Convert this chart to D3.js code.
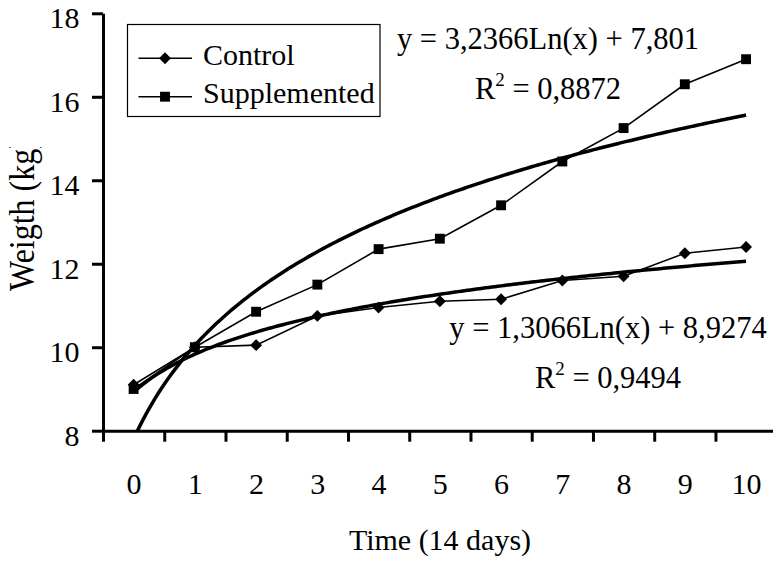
<!DOCTYPE html>
<html>
<head>
<meta charset="utf-8">
<script src="https://cdn.jsdelivr.net/npm/d3@7"></script>
<style>
  body { margin: 0; background: #fff; }
  svg { display: block; font-family: "Liberation Serif", "Times New Roman", serif; }
</style>
</head>
<body>
<div id="chart"></div>
<script>
// Données
const periods = [0, 1, 2, 3, 4, 5, 6, 7, 8, 9, 10];
const control = [9.1, 10.0, 10.05, 10.75, 10.95, 11.1, 11.15, 11.6, 11.7, 12.25, 12.4];
const supplemented = [9.0, 10.0, 10.85, 11.5, 12.35, 12.6, 13.4, 14.45, 15.25, 16.3, 16.9];
const yTicks = [8, 10, 12, 14, 16, 18];

// Courbes de tendance logarithmiques (y = a Ln(x) + b, x = rang 1..11)
const trendSupp = [3.2366, 7.801];
const trendCtrl = [1.3066, 8.9274];

const width = 773, height = 561;

const svg = d3.select('#chart')
  .append('svg')
  .attr('width', width)
  .attr('height', height);

const x = d3.scaleLinear().domain([-0.5, 10.5]).range([103, 776.7]);
const y = d3.scaleLinear().domain([8, 18]).range([430.7, 13.3]);

const defs = svg.append('defs');
defs.append('clipPath').attr('id', 'plot')
  .append('rect')
  .attr('x', x(-0.5)).attr('y', y(18))
  .attr('width', x(10.5) - x(-0.5)).attr('height', y(8) - y(18));

defs.append('clipPath').attr('id', 'ylab')
  .append('rect')
  .attr('x', 0).attr('y', 147).attr('width', 80).attr('height', 300);

// Axe Y
const yAxis = svg.append('g')
  .attr('transform', 'translate(' + x(-0.5) + ',0)')
  .call(d3.axisLeft(y).tickValues(yTicks).tickSize(11).tickSizeOuter(0).tickPadding(12.5));
yAxis.selectAll('path, line').attr('stroke', '#000').attr('stroke-width', 3);
yAxis.selectAll('text')
  .attr('font-size', 30).attr('font-family', 'Liberation Serif').attr('fill', '#000')
  .attr('dy', '0.48em');

// Axe X : graduations entre les catégories
const bounds = d3.range(-0.5, 11, 1);
const xAxis = svg.append('g')
  .attr('transform', 'translate(0,' + y(8) + ')')
  .call(d3.axisBottom(x).tickValues(bounds).tickSize(11).tickSizeOuter(0).tickFormat(''));
xAxis.selectAll('path, line').attr('stroke', '#000').attr('stroke-width', 3);

const xLabels = svg.append('g')
  .attr('transform', 'translate(0,' + y(8) + ')')
  .call(d3.axisBottom(x).tickValues(periods).tickSize(0).tickPadding(42).tickFormat(d3.format('d')));
xLabels.select('.domain').remove();
xLabels.selectAll('text')
  .attr('font-size', 30).attr('font-family', 'Liberation Serif').attr('fill', '#000');

// Titres des axes
svg.append('text')
  .attr('x', 440).attr('y', 550)
  .attr('text-anchor', 'middle')
  .attr('font-size', 30)
  .text('Time (14 days)');

svg.append('g').attr('clip-path', 'url(#ylab)')
  .append('text')
  .attr('transform', 'translate(34,291) rotate(-90) scale(1,1.15)')
  .attr('text-anchor', 'start')
  .attr('font-size', 32)
  .text('Weigth (kg)');

// Courbes de tendance
const samples = d3.range(0, 10.001, 0.05);
const trendLine = d3.line().x(d => x(d[0])).y(d => y(d[1]));
const plot = svg.append('g').attr('clip-path', 'url(#plot)');

[trendSupp, trendCtrl].forEach(c => {
  plot.append('path')
    .datum(samples.map(t => [t, c[0] * Math.log(t + 1) + c[1]]))
    .attr('d', trendLine)
    .attr('fill', 'none')
    .attr('stroke', '#000')
    .attr('stroke-width', 3.5);
});

// Séries
const line = d3.line().x((d, i) => x(periods[i])).y(d => y(d));
const diamond = d3.symbol().type(d3.symbolDiamond2).size(90);
const square = d3.symbol().type(d3.symbolSquare2).size(125);

function drawSeries(values, sym) {
  svg.append('path')
    .datum(values)
    .attr('d', line)
    .attr('fill', 'none')
    .attr('stroke', '#000')
    .attr('stroke-width', 1.6);
  svg.append('g')
    .selectAll('path')
    .data(values)
    .join('path')
    .attr('transform', (d, i) => 'translate(' + x(periods[i]) + ',' + y(d) + ')')
    .attr('d', sym)
    .attr('fill', '#000');
}
drawSeries(supplemented, square);
drawSeries(control, diamond);

// Équations
function equation(cx, by, txt, r2) {
  svg.append('text')
    .attr('x', cx).attr('y', by)
    .attr('text-anchor', 'middle')
    .attr('font-size', 30.5)
    .text(txt);
  const t = svg.append('text')
    .attr('x', cx).attr('y', by + 50)
    .attr('text-anchor', 'middle')
    .attr('font-size', 30.5);
  t.append('tspan').text('R');
  t.append('tspan').attr('font-size', 19).attr('dy', -13).text('2');
  t.append('tspan').attr('dy', 13).text(' = ' + r2);
}
equation(548, 49, 'y = 3,2366Ln(x) + 7,801', '0,8872');
equation(608, 338, 'y = 1,3066Ln(x) + 8,9274', '0,9494');

// Légende
const legend = svg.append('g');
legend.append('rect')
  .attr('x', 127.5).attr('y', 24.5)
  .attr('width', 252.5).attr('height', 92)
  .attr('fill', '#fff').attr('stroke', '#000').attr('stroke-width', 1.2);

const legendItems = [['Control', diamond, 58.3], ['Supplemented', square, 96.7]];
legendItems.forEach(([name, sym, ly]) => {
  legend.append('line')
    .attr('x1', 138.5).attr('x2', 192).attr('y1', ly).attr('y2', ly)
    .attr('stroke', '#000').attr('stroke-width', 1.5);
  legend.append('path')
    .attr('transform', 'translate(165,' + ly + ')')
    .attr('d', sym)
    .attr('fill', '#000');
  legend.append('text')
    .attr('x', 203).attr('y', ly + 6.2)
    .attr('font-size', 30)
    .text(name);
});
</script>
</body>
</html>
